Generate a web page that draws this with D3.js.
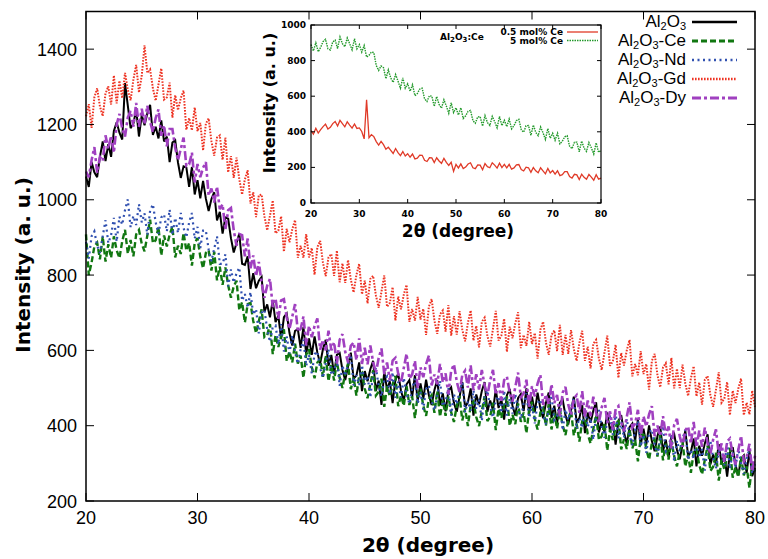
<!DOCTYPE html>
<html><head><meta charset="utf-8">
<script src="https://cdn.jsdelivr.net/npm/d3@7/dist/d3.min.js"></script>
<style>body{margin:0;background:#fff}</style></head>
<body><svg id="c" width="768" height="559"></svg>
<script>
// sampling grids (degrees 2θ)
const twoTheta = d3.range(0, 241).map(i => 20 + i * 0.25);
const insetTheta = d3.range(0, 121).map(i => 20 + i * 0.5);

const xTicks = [20, 30, 40, 50, 60, 70, 80];
const yTicks = [200, 400, 600, 800, 1000, 1200, 1400];
const insetXTicks = [20, 30, 40, 50, 60, 70, 80];
const insetYTicks = [0, 200, 400, 600, 800, 1000];

const seriesNames = ["Al2O3", "Al2O3-Ce", "Al2O3-Nd", "Al2O3-Gd", "Al2O3-Dy"];
const insetNames = ["0.5 mol% Ce", "5 mol% Ce"];

const al2o3 = [
1062,1034,1100,1073, 1060,1114,1155,1103, 1148,1114,1183,1206, 1178,1160,1310,1250,
1190,1202,1240,1168, 1225,1198,1230,1252, 1172,1194,1163,1211, 1155,1168,1100,1152,
1158,1099,1058,1089, 1086,1034,1087,1014, 1052,1004,1050,1003, 970,1002,1020,945,
968,910,953,950, 898,860,885,910, 830,827,850,763, 805,765,785,795,
702,722,688,733, 675,692,630,688, 698,646,613,652, 656,607,662,591,
632,588,637,594, 565,603,628,559, 588,537,588,593, 548,521,557,594,
525,533,568,492, 545,518,550,572, 492,520,455,545, 495,518,460,522,
538,493,466,510, 521,476,534,467, 512,471,522,481, 455,495,521,455,
486,438,493,502, 460,437,476,516, 450,462,499,427, 483,457,492,516,
437,467,441,496, 447,471,416,481, 498,453,427,473, 484,439,499,432,
477,436,488,446, 420,461,488,421, 453,406,461,469, 428,403,440,477,
410,420,455,380, 435,408,440,462, 382,410,383,435, 385,408,350,412,
428,382,353,396, 406,360,417,348, 392,350,401,359, 332,372,398,332,
363,315,370,378, 336,311,349,387, 320,330,366,292, 347,320,353,377,
297,324,298,351, 300,322,265,328, 343,296,268,312, 321,275,334,266,
288];

const al2o3Ce = [
908,800,833,876, 886,842,902,836, 882,846,903,866, 845,890,920,857,
893,850,908,920, 883,863,905,947, 885,893,928,852, 905,876,907,929,
847,878,856,912, 865,885,825,885, 898,849,818,859, 866,812,862,786,
822,774,820,773, 740,770,785,707, 728,674,723,726, 678,646,677,709,
635,640,670,590, 640,609,637,656, 572,597,568,618, 565,586,527,589,
603,555,526,568, 576,530,587,518, 562,520,570,527, 500,540,565,497,
528,480,533,540, 498,473,510,547, 480,490,525,450, 505,478,510,532,
452,480,453,505, 455,478,420,482, 498,453,426,470, 481,434,492,424,
467,426,477,436, 410,452,479,414, 446,399,454,464, 423,399,439,478,
412,424,461,388, 445,420,454,478, 400,429,404,459, 410,435,380,445,
463,418,390,435, 446,400,458,390, 434,392,443,401, 375,415,441,374,
406,358,412,420, 378,353,391,429, 362,372,408,334, 390,362,395,418,
337,364,338,391, 340,362,305,368, 383,337,310,354, 364,318,376,308,
352,310,361,319, 292,332,358,292, 323,275,330,338, 296,271,309,347,
280,291,328,254, 310,284,317,341, 262,290,264,318, 268,292,235,299,
278];

const al2o3Nd = [
888,844,903,916, 878,859,903,946, 885,906,952,889, 955,934,973,1001,
927,957,933,988, 940,964,907,971, 988,940,910,953, 961,916,974,907,
952,912,965,925, 900,940,965,897, 928,872,918,918, 868,837,870,903,
830,830,855,770, 815,780,805,820, 732,750,713,755, 695,710,645,700,
708,656,623,662, 666,616,670,597, 637,592,640,595, 565,603,628,559,
588,538,590,597, 553,527,565,603, 535,544,580,506, 560,532,565,588,
507,534,508,561, 510,532,475,538, 553,506,478,522, 531,484,542,474,
517,475,527,485, 458,498,525,459, 490,443,498,507, 466,441,480,519,
452,463,500,427, 483,457,491,515, 436,465,440,494, 445,469,413,477,
494,449,422,467, 478,434,493,427, 472,432,484,444, 418,459,486,421,
453,406,460,469, 428,404,443,481, 415,425,462,388, 443,416,449,472,
392,420,394,447, 397,420,363,426, 442,396,368,412, 422,376,434,366,
410,368,418,375, 348,388,413,345, 376,328,382,390, 348,323,361,399,
332,342,378,305, 360,333,366,389, 309,337,312,365, 315,338,281,344,
360,314,286,331, 341,295,354,286, 330,288,340,298, 272,312,339,273,
298];

const al2o3Gd = [
1222,1254,1191,1272, 1296,1248,1222,1282, 1301,1253,1330,1256, 1316,1270,1337,1292,
1264,1319,1358,1285, 1330,1410,1337,1346, 1296,1263,1306,1349, 1266,1272,1311,1218,
1278,1238,1270,1290, 1186,1217,1184,1245, 1182,1204,1131,1202, 1216,1155,1117,1165,
1171,1106,1165,1073, 1116,1058,1112,1054, 1014,1054,1078,990, 1020,954,1012,1014,
956,919,958,998, 911,918,956,862, 923,887,922,946, 846,878,846,909,
847,872,801,874, 891,833,797,847, 856,798,865,781, 831,779,840,788,
754,800,830,749, 785,725,790,798, 746,713,756,799, 716,726,768,679,
743,709,748,774, 676,710,679,742, 682,710,641,716, 736,679,644,696,
706,650,720,639, 691,642,704,655, 624,673,706,626, 665,608,676,687,
638,610,657,705, 626,639,684,596, 663,632,672,701, 606,641,612,676,
617,646,578,655, 676,621,588,641, 653,598,668,588, 641,591,654,604,
572,620,652,572, 610,552,618,628, 578,548,594,639, 559,571,615,527,
593,560,600,628, 531,564,534,598, 537,564,496,572, 591,535,502,555,
566,510,580,499, 551,500,562,512, 479,526,558,478, 515,456,522,532,
481,450,496,542, 461,472,516,428, 493,460,498,525, 428,461,430,493,
450];

const al2o3Dy = [
1075,1060,1105,1140, 1072,1114,1103,1171, 1135,1170,1125,1200, 1228,1189,1168,1219,
1236,1194,1257,1194, 1242,1200,1250,1207, 1180,1217,1240,1170, 1198,1142,1188,1188,
1138,1105,1135,1165, 1090,1094,1125,1046, 1095,1060,1085,1100, 1012,1030,993,1035,
975,988,920,972, 978,919,878,909, 906,850,897,818, 852,797,835,780,
740,772,790,715, 738,684,733,736, 688,657,690,723, 650,657,690,613,
665,635,665,685, 602,628,600,652, 600,622,565,628, 643,596,568,612,
621,574,632,564, 607,563,613,569, 540,580,605,537, 568,520,573,580,
538,514,553,591, 525,536,572,499, 555,529,563,586, 507,536,510,564,
515,539,483,546, 563,518,488,535, 546,501,560,494, 537,496,548,507,
480,521,548,482, 513,466,521,530, 488,464,502,541, 475,486,522,450,
505,478,512,535, 455,483,457,510, 460,482,425,488, 503,456,428,472,
481,434,492,424, 467,425,477,435, 408,448,474,407, 438,390,444,452,
410,385,423,462, 395,406,442,369, 425,398,430,452, 372,400,373,425,
375,398,340,402, 418,372,344,388, 398,352,410,343, 387,344,395,353,
325,364,390,323, 353,304,358,366, 323,297,335,373, 305,316,352,279,
320];

const ce05 = [
407,387, 420,393, 412,429, 443,415, 425,446, 458,432, 464,446, 428,456, 438,421, 444,419,
422,402, 360,580, 367,384, 373,345, 325,346, 328,302, 314,296, 278,306, 283,266, 289,264,
277,257, 275,248, 252,269, 268,240, 233,254, 253,227, 254,236, 223,251, 228,211, 229,178,
217,197, 220,193, 202,219, 226,198, 193,214, 213,187, 222,204, 198,226, 213,196, 224,199,
217,197, 217,190, 197,214, 216,188, 180,201, 198,172, 199,181, 170,198, 181,164, 194,169,
182,162, 181,154, 159,176, 176,148, 140,161, 158,132, 162,144, 133,161, 145,128, 159,134,
140];

const ce5 = [
890,855, 900,850, 875,907, 920,867, 860,905, 915,868, 933,895, 878,927, 895,860, 923,866,
890,848, 885,820, 830,848, 845,772, 745,770, 760,698, 748,702, 678,722, 685,645, 703,645,
670,628, 665,603, 615,640, 645,585, 570,603, 600,543, 598,554, 533,580, 545,504, 563,508,
535,495, 535,475, 490,515, 520,463, 448,484, 485,432, 491,452, 435,487, 457,422, 486,435,
465,429, 472,416, 435,463, 470,412, 398,434, 435,380, 438,397, 378,427, 395,357, 418,364,
392,352, 392,332, 347,372, 378,319, 305,341, 342,288, 348,308, 290,340, 310,275, 338,285,
295];

const svg = d3.select("#c");

// ---------- main plot ----------
const x = d3.scaleLinear().domain([20, 80]).range([86, 755]);
const y = d3.scaleLinear().domain([200, 1500]).range([501, 11.5]);

const main = svg.append("g");
const mainSeries = [
  {data: al2o3, color: "#000000", dash: null, w: 2},
  {data: al2o3Ce, color: "#117711", dash: "6,3", w: 2.4},
  {data: al2o3Nd, color: "#3050b0", dash: "2,3.5", w: 2.2},
  {data: al2o3Gd, color: "#ee3322", dash: "1.6,1.4", w: 2},
  {data: al2o3Dy, color: "#a040c0", dash: "9,3,3,3", w: 2.6}
];
const line = d3.line().x((d, i) => x(twoTheta[i])).y(d => y(d));
mainSeries.forEach(s => {
  main.append("path").attr("d", line(s.data))
    .attr("fill", "none").attr("stroke", s.color).attr("stroke-width", s.w)
    .attr("stroke-dasharray", s.dash).attr("stroke-linejoin", "miter").attr("stroke-miterlimit", 3);
});

// frame + ticks
const frame = svg.append("g");
frame.append("rect").attr("x", 86).attr("y", 11.5).attr("width", 669).attr("height", 489.5)
  .attr("fill", "none").attr("stroke", "#000").attr("stroke-width", 1.5);
const tl = 8;
xTicks.forEach(t => {
  frame.append("line").attr("x1", x(t)).attr("x2", x(t)).attr("y1", 501).attr("y2", 501 - tl).attr("stroke", "#000");
  frame.append("line").attr("x1", x(t)).attr("x2", x(t)).attr("y1", 11.5).attr("y2", 11.5 + tl).attr("stroke", "#000");
  frame.append("text").attr("x", x(t)).attr("y", 524).attr("text-anchor", "middle")
    .attr("font-family", "Liberation Sans, Arial, sans-serif").attr("font-size", 18).text(t);
});
yTicks.forEach(t => {
  frame.append("line").attr("x1", 86).attr("x2", 86 + tl).attr("y1", y(t)).attr("y2", y(t)).attr("stroke", "#000");
  frame.append("line").attr("x1", 755).attr("x2", 755 - tl).attr("y1", y(t)).attr("y2", y(t)).attr("stroke", "#000");
  frame.append("text").attr("x", 77).attr("y", y(t) + 6.5).attr("text-anchor", "end")
    .attr("font-family", "Liberation Sans, Arial, sans-serif").attr("font-size", 18).text(t);
});
svg.append("text").attr("x", 428).attr("y", 552).attr("text-anchor", "middle")
  .attr("font-family", "DejaVu Sans, sans-serif").attr("font-weight", "bold").attr("font-size", 20).text("2θ (degree)");
svg.append("text").attr("transform", "translate(30,265) rotate(-90)").attr("text-anchor", "middle")
  .attr("font-family", "DejaVu Sans, sans-serif").attr("font-weight", "bold").attr("font-size", 20).text("Intensity (a. u.)");

// legend
const leg = svg.append("g").attr("font-family", "Liberation Sans, Arial, sans-serif").attr("font-size", 17);
mainSeries.forEach((s, i) => {
  const ly = 22 + i * 19;
  const t = leg.append("text").attr("x", 686).attr("y", ly + 5).attr("text-anchor", "end");
  t.append("tspan").text("Al");
  t.append("tspan").attr("dy", 3).attr("font-size", 11).text("2");
  t.append("tspan").attr("dy", -3).text("O");
  t.append("tspan").attr("dy", 3).attr("font-size", 11).text("3");
  const suffix = seriesNames[i].slice(5);
  if (suffix) t.append("tspan").attr("dy", -3).text(suffix);
  leg.append("line").attr("x1", 692).attr("x2", 737).attr("y1", ly).attr("y2", ly)
    .attr("stroke", s.color).attr("stroke-width", s.w + 0.4).attr("stroke-dasharray", s.dash);
});

// ---------- inset ----------
const ix = d3.scaleLinear().domain([20, 80]).range([311, 601]);
const iy = d3.scaleLinear().domain([0, 1000]).range([203, 25]);
const inset = svg.append("g");
const insetSeries = [
  {data: ce05, color: "#e03a28", dash: null, w: 1.3},
  {data: ce5, color: "#22992a", dash: "1.5,1", w: 1.4}
];
const iline = d3.line().x((d, i) => ix(insetTheta[i])).y(d => iy(d));
insetSeries.forEach(s => {
  inset.append("path").attr("d", iline(s.data)).attr("fill", "none").attr("stroke", s.color)
    .attr("stroke-width", s.w).attr("stroke-dasharray", s.dash).attr("stroke-linejoin", "miter");
});
inset.append("rect").attr("x", 311).attr("y", 25).attr("width", 290).attr("height", 178)
  .attr("fill", "none").attr("stroke", "#000").attr("stroke-width", 1.2);
insetXTicks.forEach(t => {
  inset.append("line").attr("x1", ix(t)).attr("x2", ix(t)).attr("y1", 203).attr("y2", 199).attr("stroke", "#000");
  inset.append("line").attr("x1", ix(t)).attr("x2", ix(t)).attr("y1", 25).attr("y2", 29).attr("stroke", "#000");
  inset.append("text").attr("x", ix(t)).attr("y", 217).attr("text-anchor", "middle")
    .attr("font-family", "DejaVu Sans, sans-serif").attr("font-weight", "bold").attr("font-size", 9).text(t);
});
insetYTicks.forEach(t => {
  inset.append("line").attr("x1", 311).attr("x2", 315).attr("y1", iy(t)).attr("y2", iy(t)).attr("stroke", "#000");
  inset.append("line").attr("x1", 601).attr("x2", 597).attr("y1", iy(t)).attr("y2", iy(t)).attr("stroke", "#000");
  inset.append("text").attr("x", 306).attr("y", iy(t) + 3).attr("text-anchor", "end")
    .attr("font-family", "DejaVu Sans, sans-serif").attr("font-weight", "bold").attr("font-size", 9).text(t);
});
svg.append("text").attr("x", 458).attr("y", 237).attr("text-anchor", "middle")
  .attr("font-family", "DejaVu Sans, sans-serif").attr("font-weight", "bold").attr("font-size", 17).text("2θ (degree)");
svg.append("text").attr("transform", "translate(275,103) rotate(-90)").attr("text-anchor", "middle")
  .attr("font-family", "DejaVu Sans, sans-serif").attr("font-weight", "bold").attr("font-size", 16).text("Intensity (a. u.)");
const lab = svg.append("text").attr("x", 440).attr("y", 40).attr("font-family", "DejaVu Sans, sans-serif")
  .attr("font-weight", "bold").attr("font-size", 9);
lab.append("tspan").text("Al");
lab.append("tspan").attr("dy", 2).attr("font-size", 7).text("2");
lab.append("tspan").attr("dy", -2).text("O");
lab.append("tspan").attr("dy", 2).attr("font-size", 7).text("3");
lab.append("tspan").attr("dy", -2).text(":Ce");
insetSeries.forEach((s, i) => {
  const ly = 32 + i * 8.5;
  svg.append("text").attr("x", 563).attr("y", ly + 3).attr("text-anchor", "end")
    .attr("font-family", "DejaVu Sans, sans-serif").attr("font-weight", "bold").attr("font-size", 9).text(insetNames[i]);
  svg.append("line").attr("x1", 567).attr("x2", 598).attr("y1", ly).attr("y2", ly)
    .attr("stroke", s.color).attr("stroke-width", s.w).attr("stroke-dasharray", s.dash);
});
</script></body></html>
